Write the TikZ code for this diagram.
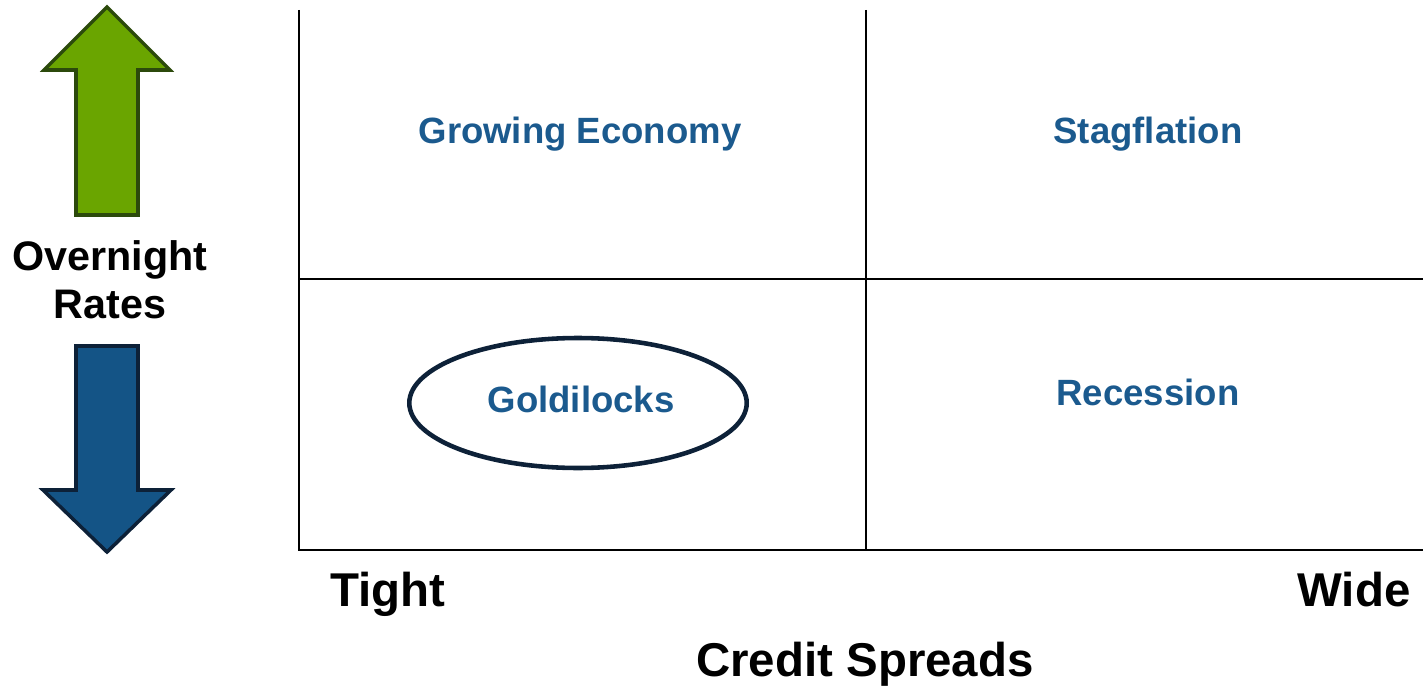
\documentclass[tikz,border=0pt]{standalone}
\usepackage{fontspec}
\setmainfont{Liberation Sans}
\usepackage{xcolor}
\usepackage{tikz}
\usetikzlibrary{shapes.geometric}

\definecolor{regime}{HTML}{1B5A8E}
\definecolor{upfill}{HTML}{6AA500}
\definecolor{upline}{HTML}{2C4A0C}
\definecolor{downfill}{HTML}{145486}
\definecolor{downline}{HTML}{0D2138}

\begin{document}
\begin{tikzpicture}[
    x=0.02cm, y=-0.02cm,
    grid/.style={line width=1.1pt, black},
    regime/.style={text=regime, font=\fontsize{20.8}{24}\selectfont\bfseries, anchor=base},
    axislabel/.style={font=\fontsize{27}{32}\selectfont\bfseries, anchor=base},
    ratelabel/.style={font=\fontsize{23.5}{28}\selectfont\bfseries, anchor=base}
  ]
    \useasboundingbox (0,0) rectangle (1423,686);

    % quadrant grid
    \draw[grid] (299,10) -- (299,550) -- (1423,550);
    \draw[grid] (866,10) -- (866,550);
    \draw[grid] (299,279) -- (1423,279);

    % rate arrows
    \draw[line width=2pt, upline, fill=upfill, line join=miter]
      (107,7) -- (170,70) -- (138,70) -- (138,215) -- (76,215) -- (76,70) -- (44,70) -- cycle;
    \draw[line width=2pt, downline, fill=downfill, line join=miter]
      (76,346) -- (138,346) -- (138,490) -- (171,490) -- (107,552) -- (43,490) -- (76,490) -- cycle;

    \node[ratelabel] (overnight) at (110,270) {Overnight};
    \node[ratelabel] (rates) at (110,318) {Rates};

    % regimes
    \node[regime] (growth) at (580,143) {Growing Economy};
    \node[regime] (stag) at (1148,143) {Stagflation};
    \node[regime] (reces) at (1148,405) {Recession};
    \node[draw=downline, line width=2.6pt, ellipse, minimum width=6.75cm, minimum height=2.6cm] (ring) at (578,403) {};
    \node[regime] (goldi) at (581,412) {Goldilocks};

    % credit spread axis
    \node[axislabel] (tight) at (388,606) {Tight};
    \node[axislabel] (wide) at (1354,606) {Wide};
    \node[axislabel] (spreads) at (865,676) {Credit Spreads};
  \end{tikzpicture}
\end{document}
